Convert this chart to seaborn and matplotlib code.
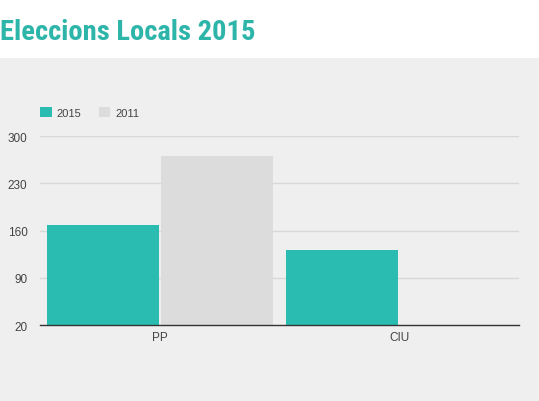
import matplotlib
matplotlib.use("Agg")
import matplotlib.pyplot as plt
from matplotlib.patches import Rectangle
import seaborn as sns
import pandas as pd

# data
parties = ["PP", "CIU"]
years = ["2015", "2011"]
seats_2015 = [169, 132]
seats_2011 = [270, 0]
y_ticks = [20, 90, 160, 230, 300]

TEAL = "#2bbcb1"
GREY_BAR = "#dcdcdc"
BG = "#efefef"

df = pd.DataFrame({
    "party": parties * 2,
    "year": [years[0]] * len(parties) + [years[1]] * len(parties),
    "value": seats_2015 + seats_2011,
})

sns.set_theme(style="white")
plt.rcParams["font.family"] = ["Liberation Sans", "DejaVu Sans"]

fig = plt.figure(figsize=(5.39, 4.02), dpi=100, facecolor="white")
# grey panel below the title strip
fig.patches.append(Rectangle((0, 0), 1, 1 - 58.5 / 402, transform=fig.transFigure,
                             facecolor=BG, edgecolor="none", zorder=-10))

ax = fig.add_axes([40 / 539, 1 - 326.3 / 402, 479 / 539, (326.3 - 137) / 402])
ax.set_facecolor(BG)

sns.barplot(data=df, x="party", y="value", hue="year", hue_order=years,
            order=parties, palette=[TEAL, GREY_BAR], width=0.95, gap=0.015,
            linewidth=0, saturation=1, ax=ax, legend=True)

ax.set_ylim(20, 300)
ax.set_yticks(y_ticks)
ax.set_yticklabels([str(t) for t in y_ticks])
ax.set_xlabel("")
ax.set_ylabel("")
for t in y_ticks[1:]:
    ax.axhline(t, color="#d8d8d8", linewidth=1, zorder=0)
ax.set_axisbelow(True)

for s in ["top", "right", "left"]:
    ax.spines[s].set_visible(False)
ax.spines["bottom"].set_color("#333333")
ax.spines["bottom"].set_linewidth(1)
ax.spines["bottom"].set_zorder(5)
ax.tick_params(axis="both", length=0, labelsize=8.5, labelcolor="#444444")
ax.tick_params(axis="y", pad=9)
ax.tick_params(axis="x", pad=4)

handles, labels = ax.get_legend_handles_labels()
ax.legend_.remove()
fig.legend(handles, labels, loc="upper left", bbox_to_anchor=(36 / 539, 1 - 104 / 402),
           ncol=2, frameon=False, fontsize=8, labelcolor="#444444",
           handlelength=1.0, handleheight=1.0, handletextpad=0.45,
           columnspacing=1.6, borderaxespad=0)

fig.text(0.0, 1 - 40 / 402, "Eleccions Locals 2015", color="#2db5aa",
         fontsize=20.5, fontweight="heavy", fontstretch="condensed",
         family=["Roboto Condensed", "Open Sans Condensed", "Roboto", "DejaVu Sans"],
         va="baseline", ha="left")

fig.savefig("out.png", dpi=100, facecolor=fig.get_facecolor())
